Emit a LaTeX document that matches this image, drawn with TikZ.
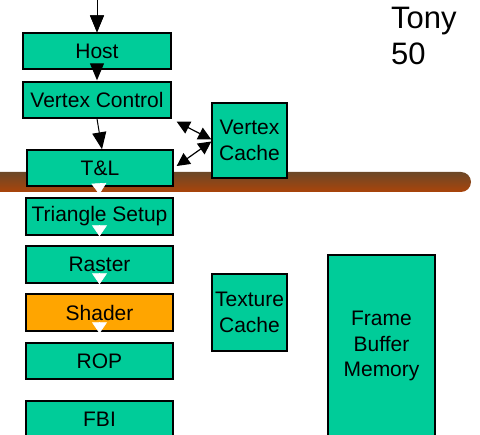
\documentclass[tikz,border=0pt]{standalone}
\usepackage{fontspec}
\setmainfont{Liberation Sans}
\usetikzlibrary{arrows.meta}
\definecolor{boxgreen}{RGB}{0,204,153}
\definecolor{boxorange}{RGB}{255,165,0}
\definecolor{bartop}{RGB}{108,72,40}
\definecolor{barbot}{RGB}{170,68,10}
\tikzset{
  stage/.style={draw=black, line width=1.4pt, fill=boxgreen, inner sep=0pt,
    align=center, font=\fontsize{21}{25.5}\selectfont},
  blkhead/.tip={Triangle[length=17pt,width=14pt]},
  dblhead/.tip={Triangle[length=13pt,width=13pt]},
  whthead/.tip={Triangle[length=11pt,width=15pt]},
}
\begin{document}
\begin{tikzpicture}[x=1pt,y=1pt]
\useasboundingbox (0,-435) rectangle (480,0);
\begin{scope}
\clip (0,-435) rectangle (480,0);
% bar
\shade[top color=bartop, bottom color=barbot, rounded corners=10pt] (-20,-192) rectangle (471,-172);
% stages
\node[stage, minimum width=148pt, minimum height=36pt] (host) at (97,-51) {Host};
\node[stage, minimum width=148pt, minimum height=36pt] (vc) at (97,-100) {Vertex Control};
\node[stage, minimum width=146pt, minimum height=36pt] (tl) at (100,-168) {T\&L};
\node[stage, minimum width=147pt, minimum height=37pt] (ts) at (99.5,-216.5) {Triangle Setup};
\node[stage, minimum width=147pt, minimum height=37pt] (ras) at (99.5,-264.5) {Raster};
\node[stage, fill=boxorange, minimum width=147pt, minimum height=37pt] (sh) at (99.5,-312.5) {Shader};
\node[stage, minimum width=147pt, minimum height=36pt] (rop) at (99.5,-361) {ROP};
\node[stage, minimum width=147pt, minimum height=37pt] (fbi) at (99.5,-419.5) {FBI};
\node[stage, minimum width=75pt, minimum height=75pt] (vcache) at (249.5,-140.5) {Vertex\\Cache};
\node[stage, minimum width=75pt, minimum height=77pt] (tcache) at (249.5,-312.5) {Texture\\Cache};
\node[stage, minimum width=107pt, minimum height=182pt] (fbm) at (381.5,-346) {Frame\\Buffer\\Memory};
\end{scope}
\node[anchor=north west, inner sep=0pt, align=left, font=\fontsize{31}{36}\selectfont] (tony) at (391,-7) {Tony\\50};
% arrows
\coordinate (src) at (97,0);
\draw[line width=1pt, -{blkhead}] (src) -- (host.north);
\fill (host.north) -- ++(-7,17) -- ++(14,0) -- cycle;
\draw[line width=1pt, -{blkhead}] (host.south) -- ([yshift=1pt]vc.north);
\draw[line width=1pt, -{blkhead}] (vc.south) -- ([xshift=2pt]tl.north);
\draw[line width=1.2pt, {dblhead}-{dblhead}] ([shift={(5,-3)}]vc.south east) -- ([yshift=1pt]vcache.west);
\draw[line width=1.2pt, {dblhead}-{dblhead}] ([shift={(3,2)}]tl.east) -- ([yshift=-1pt]vcache.west);
\draw[white, line width=0.6pt, -{whthead}, shorten >=3pt] ([xshift=-1pt]tl.south) -- (ts.north);
\draw[white, line width=0.6pt, -{whthead}, shorten >=9pt] (ts.south) -- (ras.north);
\draw[white, line width=0.6pt, -{whthead}, shorten >=9pt] (ras.south) -- (sh.north);
\draw[white, line width=0.6pt, -{whthead}, shorten >=9pt] (sh.south) -- (rop.north);
\end{tikzpicture}
\end{document}
